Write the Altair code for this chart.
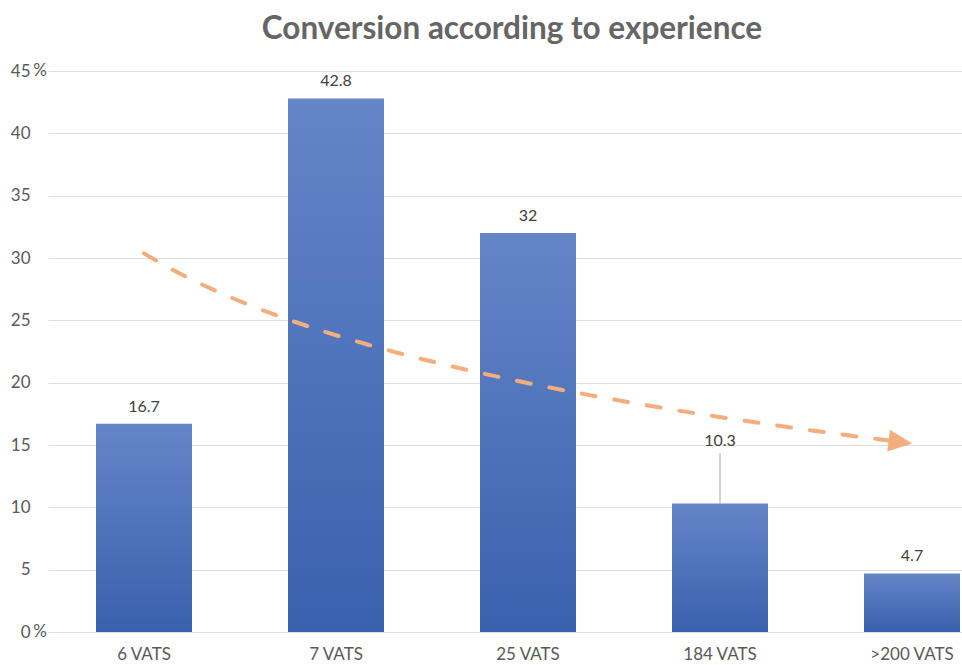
import altair as alt
import pandas as pd

categories = ["6 VATS", "7 VATS", "25 VATS", "184 VATS", ">200 VATS"]
values = [16.7, 42.8, 32, 10.3, 4.7]
y_ticks = [0, 5, 10, 15, 20, 25, 30, 35, 40, 45]
percent_ticks = [0, 45]
callout_categories = ["184 VATS"]

df = pd.DataFrame({"category": categories, "value": values})
df["callout"] = df["category"].isin(callout_categories)
pct_df = pd.DataFrame({"value": percent_ticks})

FONT = "Lato"
LABEL = "#595959"
ORANGE = "#F4AE7E"

x_cat = alt.X(
    "category:N",
    sort=categories,
    scale=alt.Scale(range=[0, 960], paddingInner=0.5, paddingOuter=0.25),
    axis=alt.Axis(title=None, labelAngle=0, ticks=False, domain=False,
                  labelPadding=14, labelFontSize=17, labelColor=LABEL, labelFont=FONT),
)
y_val = alt.Y(
    "value:Q",
    scale=alt.Scale(domain=[0, 45], nice=False, zero=True),
    axis=alt.Axis(title=None, values=y_ticks, grid=True, gridColor="#dedede", domain=False,
                  ticks=False, labelPadding=18, labelFontSize=17, labelColor=LABEL,
                  labelFont=FONT),
)
x_trend = alt.X("idx:Q", scale=alt.Scale(domain=[0.5, 5.5], range=[0, 960], nice=False, zero=False), axis=None)

gradient = alt.Gradient(
    gradient="linear",
    stops=[alt.GradientStop(color="#6485C7", offset=0),
           alt.GradientStop(color="#3A61AE", offset=1)],
    x1=0, x2=0, y1=0, y2=1,
)

bars = alt.Chart(df).mark_bar(color=gradient).encode(x=x_cat, y=y_val)

labels = alt.Chart(df).transform_filter("!datum.callout").mark_text(
    dy=-12, baseline="alphabetic", fontSize=16, color="#404040", font=FONT
).encode(x=x_cat, y="value:Q", text=alt.Text("value:Q", format="~g"))

callout_label = alt.Chart(df).transform_filter("datum.callout").mark_text(
    dy=-58, baseline="alphabetic", fontSize=16, color="#404040", font=FONT
).encode(x=x_cat, y="value:Q", text=alt.Text("value:Q", format="~g"))

leader = alt.Chart(df).transform_filter("datum.callout").transform_calculate(
    top="datum.value + 4.05"
).mark_rule(color="#a6a6a6", strokeWidth=1).encode(x=x_cat, y="value:Q", y2="top:Q")

pct = alt.Chart(pct_df).mark_text(
    align="right", baseline="middle", fontSize=17, color=LABEL, font=FONT, text="%"
).encode(x=alt.value(-1), y="value:Q")

base_layer = alt.layer(bars, leader, labels, callout_label, pct)

trend = alt.Chart(df).transform_window(idx="row_number()").transform_regression(
    "idx", "value", method="log", extent=[1, 4.88]
).mark_line(color=ORANGE, strokeWidth=4, strokeDash=[14, 19], strokeCap="round").encode(
    x=x_trend, y="value:Q"
)

arrow = alt.Chart(df).transform_window(idx="row_number()").transform_regression(
    "idx", "value", method="log", extent=[1, 4.94]
).transform_joinaggregate(last="max(idx)").transform_filter(
    "datum.idx == datum.last"
).mark_point(
    shape="M -1 -0.92 L 1 0 L -1 0.92 Z", size=576, filled=True, color=ORANGE,
    opacity=1, angle=7, strokeWidth=0
).encode(x=x_trend, y="value:Q")

chart = alt.layer(base_layer, trend, arrow).resolve_scale(x="independent").properties(
    width=914,
    height=561,
    padding={"left": 48, "top": 71, "right": 0, "bottom": 33},
    autosize=alt.AutoSizeParams(type="none"),
    title=alt.TitleParams(
        "Conversion according to experience", font=FONT, fontSize=31.5, fontWeight="bold",
        color="#656565", anchor="middle", dx=7, offset=17, frame="group",
    ),
).configure_view(stroke=None)

chart.save("out.html", embed_options={"renderer": "svg", "actions": False})
